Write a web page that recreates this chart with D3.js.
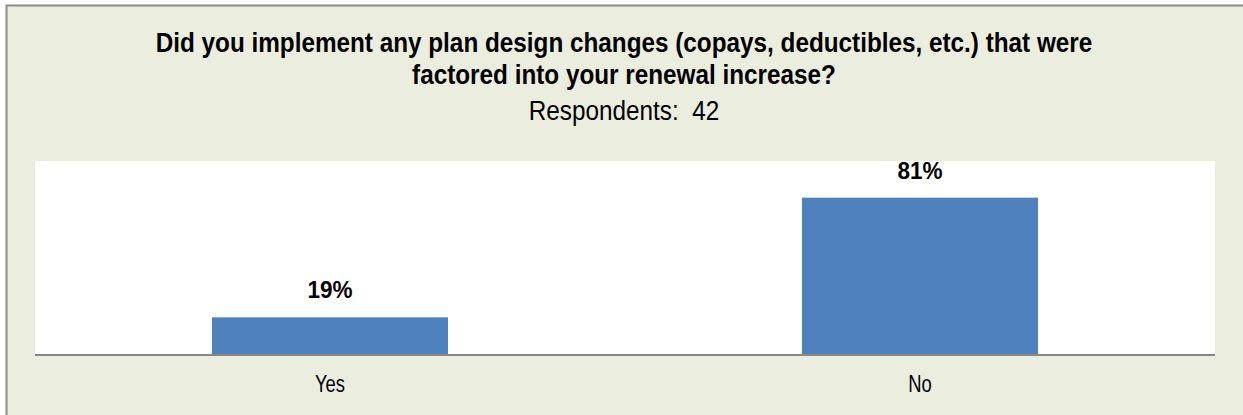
<!DOCTYPE html>
<html>
<head>
<meta charset="utf-8">
<script src="https://cdn.jsdelivr.net/npm/d3@7"></script>
<style>
  html, body { margin: 0; padding: 0; background: #ffffff; }
  svg { display: block; }
  text { font-family: "Liberation Sans", Arial, sans-serif; fill: #000; white-space: pre; }
</style>
</head>
<body>
<svg id="chart" width="1243" height="415"></svg>
<script>
// Survey question and answers
const titleLines = [
  "Did you implement any plan design changes (copays, deductibles, etc.) that were",
  "factored into your renewal increase?"
];
const subtitle = "Respondents:  42";
const categories = ["Yes", "No"];
const values = [19, 81];           // percent of respondents
const valueLabels = ["19%", "81%"];

const W = 1243, H = 415;
const cx = 624;
const svg = d3.select("#chart");

// Condensed text: anchor at (x, y) and squeeze horizontally
function narrowText(parent, x, y, sx) {
  return parent.append("g")
    .attr("transform", `translate(${x},${y}) scale(${sx},1)`)
    .append("text").attr("text-anchor", "middle");
}

// Outer panel with a grey frame on the top and left
svg.append("rect").attr("x", 0).attr("y", 0).attr("width", W).attr("height", H).attr("fill", "#ffffff");
svg.append("rect")
  .attr("x", 6.5).attr("y", 5.5).attr("width", W + 20).attr("height", H + 20)
  .attr("fill", "#ebeedf").attr("stroke", "#8c8c8c").attr("stroke-width", 2);

// Title block
titleLines.forEach((line, i) => {
  narrowText(svg, cx, 52 + i * 32, 0.9)
    .attr("font-weight", "bold").attr("font-size", 27)
    .text(line);
});
narrowText(svg, cx, 120, 0.9)
  .attr("font-size", 27)
  .text(subtitle);

// Plot area
const plot = { left: 35, right: 1215, top: 161, bottom: 354 };
svg.append("rect")
  .attr("x", plot.left).attr("y", plot.top)
  .attr("width", plot.right - plot.left).attr("height", plot.bottom - plot.top)
  .attr("fill", "#ffffff");

const x = d3.scaleBand().domain(categories).range([plot.left, plot.right]).paddingInner(0.6).paddingOuter(0.3);
const y = d3.scaleLinear().domain([0, 100]).range([plot.bottom, plot.top]);

const data = categories.map((c, i) => ({ cat: c, value: values[i], label: valueLabels[i] }));

svg.append("g").selectAll("rect").data(data).join("rect")
  .attr("x", d => x(d.cat)).attr("y", d => y(d.value))
  .attr("width", x.bandwidth()).attr("height", d => y(0) - y(d.value))
  .attr("fill", "#4f81bd");

const labels = svg.append("g");
data.forEach(d => {
  narrowText(labels, x(d.cat) + x.bandwidth() / 2, y(d.value) - 19, 0.92)
    .attr("font-weight", "bold").attr("font-size", 24.5)
    .text(d.label);
});

// Category axis
const xAxis = svg.append("g")
  .attr("transform", `translate(0,${plot.bottom})`)
  .call(d3.axisBottom(x).tickSize(0).tickPadding(22));
xAxis.select(".domain").attr("stroke", "#868686").attr("stroke-width", 2)
  .attr("d", `M${plot.left},1H${plot.right}`);
xAxis.selectAll(".tick text")
  .attr("font-family", "\"Liberation Sans\", Arial, sans-serif")
  .attr("font-size", 23).attr("fill", "#000")
  .attr("transform", "scale(0.8,1)");
</script>
</body>
</html>
